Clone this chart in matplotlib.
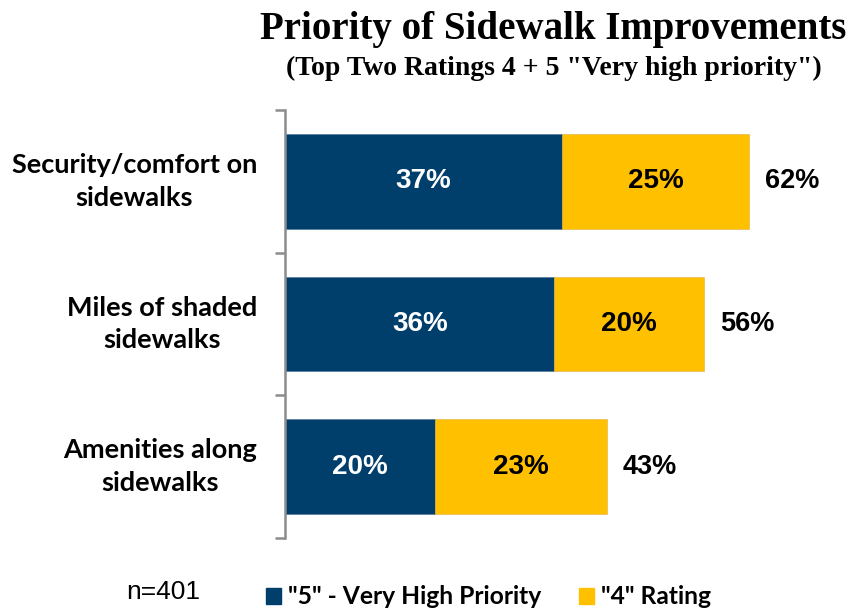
import matplotlib.pyplot as plt
from matplotlib.patches import Patch
from matplotlib.transforms import blended_transform_factory

# data
categories = ["Security/comfort on\nsidewalks", "Miles of shaded\nsidewalks", "Amenities along\nsidewalks"]
very_high = [37, 36, 20]     # "5" - Very High Priority
rating4 = [25, 20, 23]       # "4" Rating
series_names = ['"5" - Very High Priority', '"4" Rating']

navy = "#003E6B"
gold = "#FFC000"

fig = plt.figure(figsize=(8.58, 6.09), dpi=100)
ax = fig.add_axes([285 / 858, 1 - 538 / 609, 524 / 858, 428 / 609])

ypos = list(range(len(categories)))
totals = [a + b for a, b in zip(very_high, rating4)]

b1 = ax.barh(ypos, very_high, height=0.665, color=navy, edgecolor="#5a7fa0", linewidth=0.6)
b2 = ax.barh(ypos, rating4, left=very_high, height=0.665, color=gold, edgecolor="#e0b040", linewidth=0.4)

for y, a, b, t in zip(ypos, very_high, rating4, totals):
    ax.text(a / 2, y, f"{a}%", color="white", ha="center", va="center",
            fontsize=20, fontweight="bold", family="Liberation Sans")
    ax.text(a + b / 2, y, f"{b}%", color="black", ha="center", va="center",
            fontsize=20, fontweight="bold", family="Liberation Sans")
    ax.text(t + 2.1, y, f"{t}%", color="black", ha="left", va="center",
            fontsize=19.5, fontweight="bold", family="Liberation Sans")

ax.set_xlim(0, 70)
ax.set_ylim(2.5, -0.5)
ax.set_xticks([])

# boundary ticks on the axis line
ax.set_yticks([-0.5, 0.5, 1.5, 2.5])
ax.set_yticklabels([])
ax.tick_params(axis="y", which="major", length=7, width=1.8, color="#8c8c8c", direction="out")

# category labels, centred lines, right edge left of the axis
trans = blended_transform_factory(ax.transAxes, ax.transData)
for y, cat in zip(ypos, categories):
    ax.text(-28 / 524, y, cat, transform=trans, ha="right", va="center", multialignment="center",
            linespacing=1.45, fontsize=19.5, fontweight="bold", family="Lato")

for s in ["top", "right", "bottom"]:
    ax.spines[s].set_visible(False)
ax.spines["left"].set_color("#8c8c8c")
ax.spines["left"].set_linewidth(1.8)

fig.text(553 / 858, 1 - 29 / 609, "Priority of Sidewalk Improvements", ha="center", va="center",
         fontsize=28, fontweight="bold", family="Liberation Serif")
fig.text(554 / 858, 1 - 68 / 609, '(Top Two Ratings 4 + 5 "Very high priority")', ha="center", va="center",
         fontsize=20, fontweight="bold", family="Liberation Serif")

fig.text(163 / 858, 1 - 592 / 609, "n=401", ha="center", va="center", fontsize=19, family="Liberation Sans")

handles = [Patch(color=navy), Patch(color=gold)]
fig.legend(handles, series_names, loc="center left", bbox_to_anchor=(266 / 858, 1 - 597 / 609),
           ncol=2, frameon=False, borderpad=0, borderaxespad=0,
           handlelength=0.61, handleheight=0.61, handletextpad=0.28,
           columnspacing=1.55, prop={"family": "Lato", "weight": "bold", "size": 17.7})

fig.savefig("out.png", dpi=100)
